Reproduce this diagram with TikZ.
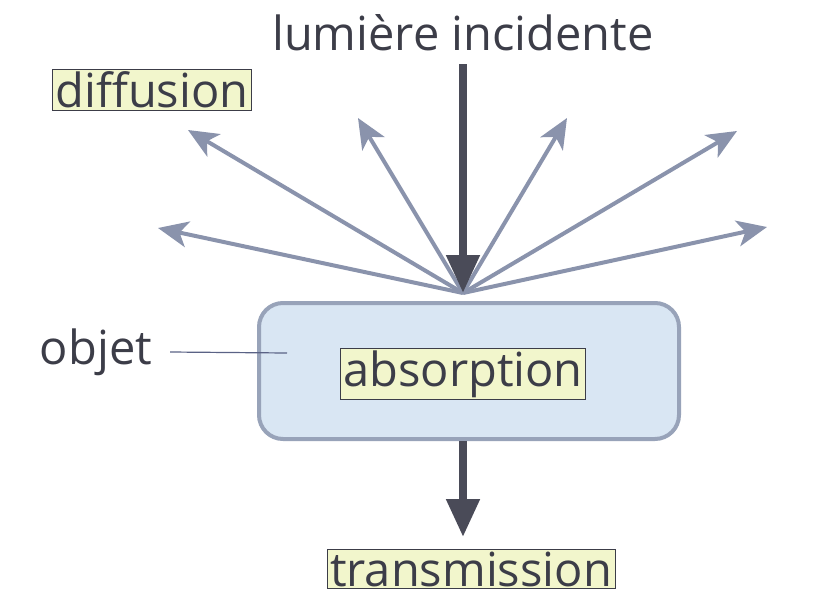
\documentclass[tikz,border=0pt]{standalone}
\usepackage{fontspec}
\setmainfont{Open Sans}
\usetikzlibrary{arrows.meta}
\definecolor{txt}{HTML}{3C3D48}
\definecolor{dark}{HTML}{4A4B58}
\definecolor{scat}{HTML}{8A93AC}
\definecolor{boxfill}{HTML}{D9E6F3}
\definecolor{boxline}{HTML}{98A3B9}
\definecolor{hl}{HTML}{F2F6CC}
\definecolor{objline}{HTML}{5A6285}
\tikzset{
  lbl/.style={font=\fontsize{47}{50}\selectfont, text=txt, inner sep=0pt},
  hilite/.style={lbl, fill=hl, draw=txt, line width=0.8pt, inner xsep=3pt, inner ysep=2pt},
  scatarrow/.style={draw=scat, line width=4pt, -{Stealth[length=30pt,width=26pt,inset=8pt]}},
  mainarrow/.style={draw=dark, line width=8pt, -{Triangle[length=38pt,width=32pt]}},
  objbox/.style={draw=boxline, fill=boxfill, line width=4pt, rounded corners=24pt}
}
\begin{document}
\begin{tikzpicture}[x=1pt,y=1pt]
\useasboundingbox (0,0) rectangle (831,-614);
% labels
\node[lbl] (inc) at (463,-33) {lumière incidente};
\node[hilite] (diff) at (152,-90) {diffusion};
\node[lbl] (obj) at (96,-352) {objet};
% focal point and scatter ends
\coordinate (f) at (463,-293);
\coordinate (s1) at (188,-130);
\coordinate (s2) at (158,-228);
\coordinate (s3) at (358,-118);
\coordinate (s4) at (567,-118);
\coordinate (s5) at (737,-131);
\coordinate (s6) at (767,-227);
\foreach \s in {s1,s2,s3,s4,s5,s6} \draw[scatarrow] (f) -- (\s);
% object box
\node[objbox, minimum width=420pt, minimum height=136pt] (box) at (469,-371) {};
\node[hilite] (abs) at (463,-374) {absorption};
\coordinate (objend) at (287,-353);
\draw[objline, line width=1.2pt] (obj.east) ++(18pt,0) coordinate (objstart) -- (objend);
% incident arrow
\coordinate (incstart) at (463,-64);
\draw[mainarrow] (incstart) -- (f);
% transmission
\node[hilite] (trans) at (471,-569) {transmission};
\coordinate (tstart) at (463,-441);
\coordinate (tend) at (463,-537);
\draw[mainarrow] (tstart) -- (tend);
\end{tikzpicture}
\end{document}
